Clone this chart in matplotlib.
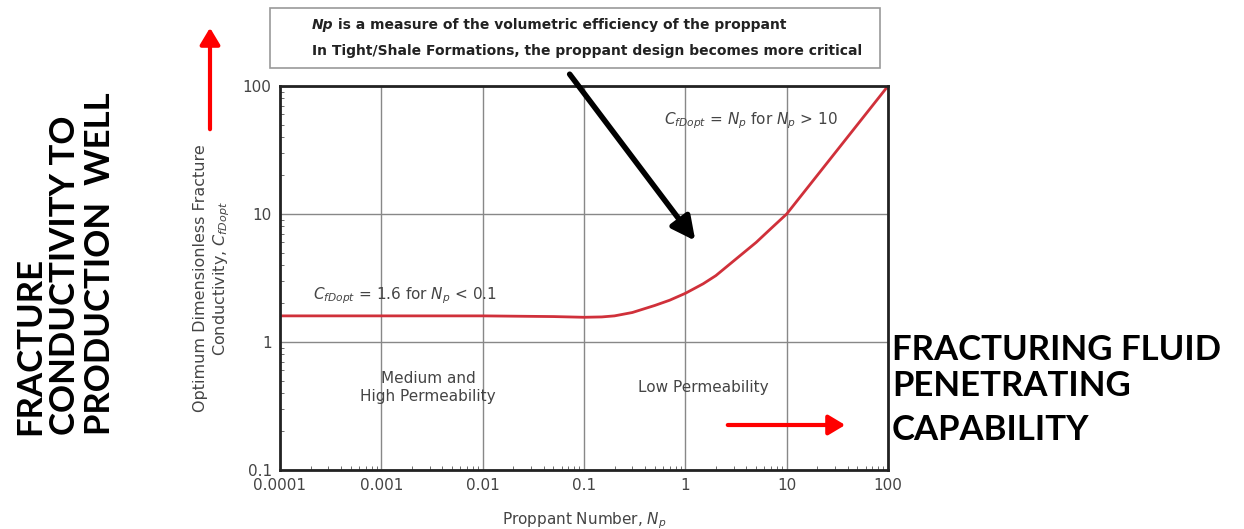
import matplotlib.pyplot as plt
from matplotlib.patches import FancyArrowPatch, Rectangle

# curve
np_vals = [0.0001, 0.001, 0.01, 0.05, 0.1, 0.15, 0.2, 0.3, 0.5, 0.7, 1, 1.5, 2, 3, 5, 7,
           10, 15, 20, 30, 50, 70, 100]
cfd_opt = [1.6, 1.6, 1.6, 1.58, 1.56, 1.57, 1.6, 1.7, 1.93, 2.12, 2.4, 2.85, 3.3, 4.3, 6.0,
           7.7, 10, 15, 20, 30, 50, 70, 100]

x_ticks = [0.0001, 0.001, 0.01, 0.1, 1, 10, 100]
x_labels = ['0.0001', '0.001', '0.01', '0.1', '1', '10', '100']
y_ticks = [0.1, 1, 10, 100]
y_labels = ['0.1', '1', '10', '100']

W, H = 1244, 529
fig = plt.figure(figsize=(W / 100, H / 100), dpi=100)
ax = fig.add_axes([280 / W, 1 - 470 / H, 608 / W, 384 / H])

ax.plot(np_vals, cfd_opt, color='#d0303a', lw=2)
ax.set_xscale('log')
ax.set_yscale('log')
ax.set_xlim(0.0001, 100)
ax.set_ylim(0.1, 100)
ax.set_xticks(x_ticks)
ax.set_xticklabels(x_labels)
ax.set_yticks(y_ticks)
ax.set_yticklabels(y_labels)
ax.grid(True, which='major', color='#888888', lw=1)
ax.tick_params(which='both', direction='in', labelsize=11, labelcolor='#444444')
ax.tick_params(which='major', length=0, pad=6)
ax.tick_params(which='minor', length=3, color='#555555')
for s in ax.spines.values():
    s.set_linewidth(2)
    s.set_color('#222222')

ax.set_xlabel('Proppant Number, $N_p$', fontsize=11, color='#444444', labelpad=12)
ax.set_ylabel('Optimum Dimensionless Fracture\nConductivity, $C_{fDopt}$',
              fontsize=11.5, color='#444444', labelpad=8)

ax.text(0.00021, 2.3, '$C_{fDopt}$ = 1.6 for $N_p$ < 0.1', fontsize=11, color='#444444',
        va='center')
ax.text(4.4, 54, '$C_{fDopt}$ = $N_p$ for $N_p$ > 10', fontsize=11, color='#444444',
        ha='center', va='center')
ax.text(0.0029, 0.44, 'Medium and\nHigh Permeability', fontsize=11, color='#444444',
        ha='center', va='center', linespacing=1.3)
ax.text(1.5, 0.44, 'Low Permeability', fontsize=11, color='#444444', ha='center', va='center')

# note box at top
fig.patches.append(Rectangle((270 / W, 1 - 68 / H), 610 / W, 60 / H,
                             transform=fig.transFigure, fill=False,
                             edgecolor='#999999', lw=1.2))
t1 = fig.text(312 / W, 1 - 25 / H, 'Np', fontsize=10, fontweight='bold', style='italic',
              color='#222222', va='center')
fig.add_artist(plt.Annotation('is a measure of the volumetric efficiency of the proppant',
                              xy=(1, 0.5), xycoords=t1, xytext=(3, 0),
                              textcoords='offset points', va='center', fontsize=10,
                              fontweight='bold', color='#222222'))
fig.text(312 / W, 1 - 51 / H, 'In Tight/Shale Formations, the proppant design becomes more critical',
         fontsize=10, fontweight='bold', color='#222222', va='center')

# black arrow from box to curve
fig.patches.append(FancyArrowPatch((568 / W, 1 - 72 / H), (697 / W, 1 - 243 / H),
                                   transform=fig.transFigure,
                                   arrowstyle='-|>,head_length=14,head_width=7',
                                   color='black', lw=4))

# red arrows
fig.patches.append(FancyArrowPatch((210 / W, 1 - 132 / H), (210 / W, 1 - 25 / H),
                                   transform=fig.transFigure,
                                   arrowstyle='-|>,head_length=10,head_width=6',
                                   color='red', lw=3))
fig.patches.append(FancyArrowPatch((725 / W, 1 - 425 / H), (848 / W, 1 - 425 / H),
                                   transform=fig.transFigure,
                                   arrowstyle='-|>,head_length=10,head_width=6',
                                   color='red', lw=3))

left_lines = ['FRACTURE', 'CONDUCTIVITY TO', 'PRODUCTION  WELL']
left_x = [30, 65, 100]
for txt, xp in zip(left_lines, left_x):
    fig.text(xp / W, 1 - 435 / H, txt, rotation=90, fontsize=25, fontweight='bold',
             ha='center', va='bottom', family='Lato')

right_lines = ['FRACTURING FLUID', 'PENETRATING', 'CAPABILITY']
right_y = [350, 386, 430]
for txt, yp in zip(right_lines, right_y):
    fig.text(892 / W, 1 - yp / H, txt, fontsize=25, fontweight='bold', va='center',
             family='Lato')

fig.savefig('out.png', dpi=100)
